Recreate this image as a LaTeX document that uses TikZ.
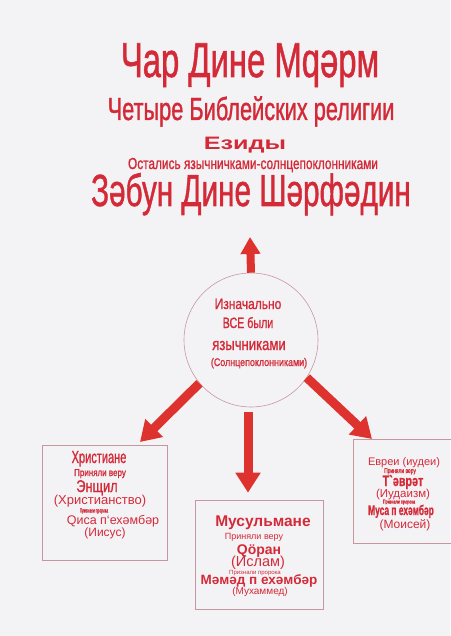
\documentclass[tikz,border=0pt]{standalone}
\usepackage{fontspec}
\setmainfont{Liberation Sans}
\newfontfamily\narrowfont{Liberation Sans}[FakeBold=1.3]
\usetikzlibrary{arrows.meta}

\definecolor{inkred}{RGB}{212,42,56}
\definecolor{arrred}{RGB}{222,50,46}
\definecolor{paper}{RGB}{243,243,246}
\definecolor{rim}{RGB}{200,150,158}

% text size and horizontal squeeze
\newcommand{\sz}[1]{\fontsize{#1}{#1}\selectfont}
\newcommand{\squeeze}[2]{\scalebox{#1}[1]{\narrowfont #2}}

\tikzset{
  lbl/.style={text=inkred, inner sep=0pt, anchor=base},
  bigarrow/.style={arrred, line width=9pt, -{Triangle[width=24pt,length=20pt]}},
  relbox/.style={draw=rim, line width=0.6pt, inner sep=0pt},
}

\begin{document}
\begin{tikzpicture}[x=1pt,y=-1pt]
\fill[paper] (0,0) rectangle (450,636);
\useasboundingbox (0,0) rectangle (450,636);

% заголовок
\node[lbl] (ttl1) at (250,77) {\sz{49}\squeeze{0.67}{Чар Дине Мqәрм}};
\node[lbl] (ttl2) at (251,120) {\sz{32}\squeeze{0.68}{Четыре Библейских религии}};
\node[lbl] (ttl3) at (245,150) {\sz{18}\scalebox{1.4}[1]{\bfseries Езиды}};
\node[lbl] (ttl4) at (253,169) {\sz{16}\squeeze{0.74}{Остались язычничками-солнцепоклонниками}};
\node[lbl] (ttl5) at (251,206) {\sz{45}\squeeze{0.66}{Зәбун Дине Шәрфәдин}};

% круг
\node[circle, draw=rim, line width=0.6pt, minimum size=134pt, inner sep=0pt] (circ) at (251,340) {};
\node[lbl] (c1) at (248,309) {\sz{15}\squeeze{0.8}{Изначально}};
\node[lbl] (c2) at (248,328) {\sz{15}\squeeze{0.71}{ВСЕ были}};
\node[lbl] (c3) at (249,350) {\sz{17}\squeeze{0.77}{язычниками}};
\node[lbl] (c4) at (259,366) {\sz{11}\squeeze{0.81}{(Солнцепоклонниками)}};

% рамки
\node[relbox, minimum width=125pt, minimum height=115pt] (lbox) at (104.5,502.5) {};
\node[relbox, minimum width=128pt, minimum height=109pt] (mbox) at (259,554.5) {};
\node[relbox, minimum width=104pt, minimum height=104pt] (rbox) at (405,491) {};

% христиане
\node[lbl] (l1) at (99,463) {\sz{17.5}\squeeze{0.63}{Христиане}};
\node[lbl] (l2) at (100,476) {\sz{10}\squeeze{0.8}{Приняли веру}};
\node[lbl] (l3) at (97,492) {\sz{17}\squeeze{0.75}{Энщил}};
\node[lbl] (l4) at (100,504.5) {\sz{13}{(Христианство)}};
\node[lbl] (l5) at (94,512.5) {\sz{6}\squeeze{0.55}{Признали пророка}};
\node[lbl] (l6) at (113,524) {\sz{12.5}{Qиса п`ехәмбәр}};
\node[lbl] (l7) at (105,536) {\sz{12}{(Иисус)}};

% мусульмане
\node[lbl] (m1) at (263,526) {\sz{15.5}\bfseries Мусульмане};
\node[lbl] (m2) at (254,539) {\sz{9}Приняли веру};
\node[lbl] (m3) at (259,554) {\sz{14}\bfseries Qӧран};
\node[lbl] (m4) at (258,566) {\sz{14.5}(Ислам)};
\node[lbl] (m5) at (255,574) {\sz{6}Признали пророка};
\node[lbl] (m6) at (259,584) {\sz{13.5}\bfseries Мәмәд п ехәмбәр};
\node[lbl] (m7) at (260,594) {\sz{10}(Мухаммед)};

% евреи
\node[lbl] (r1) at (404,465) {\sz{11}Евреи (иудеи)};
\node[lbl] (r2) at (400,473) {\sz{7}\squeeze{0.7}{Приняли веру}};
\node[lbl] (r3) at (403,486) {\sz{15}\squeeze{0.72}{\bfseries Т`әврәт}};
\node[lbl] (r4) at (403,497) {\sz{11.5}(Иудаизм)};
\node[lbl] (r5) at (399,503.5) {\sz{5.5}\squeeze{0.68}{Признали пророка}};
\node[lbl] (r6) at (401,515) {\sz{14}\squeeze{0.6}{\bfseries Муса п ехәмбәр}};
\node[lbl] (r7) at (405,528) {\sz{12}(Моисей)};

% стрелки
\coordinate (uend) at (250,237);
\coordinate (lend) at (140,442);
\coordinate (rend) at (372,439);
\draw[bigarrow, line width=8pt, -{Triangle[width=19pt,length=17pt]}] (circ.north) -- (uend);
\draw[bigarrow] (circ.220) -- (lend);
\draw[bigarrow] (circ.-34) -- (rend);
\draw[bigarrow] (circ.south) ++(-3,5) -- ([xshift=-11pt,yshift=7pt]mbox.north);
\end{tikzpicture}
\end{document}
